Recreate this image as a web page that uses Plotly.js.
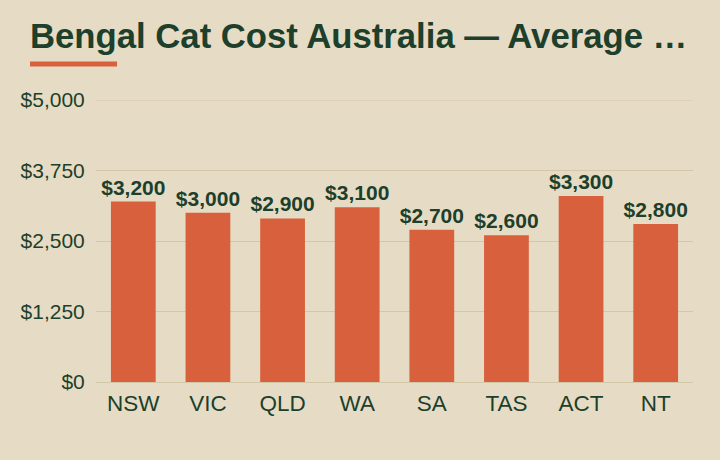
<!DOCTYPE html>
<html>
<head>
<meta charset="utf-8">
<script src="https://cdn.plot.ly/plotly-3.0.1.min.js"></script>
<style>
  html, body { margin: 0; padding: 0; background: #e6dcc5; }
  #chart { width: 720px; height: 460px; }
</style>
</head>
<body>
<div id="chart"></div>
<script>
const titleText = 'Bengal Cat Cost Australia — Average …';
const states = ['NSW', 'VIC', 'QLD', 'WA', 'SA', 'TAS', 'ACT', 'NT'];
const costs = [3200, 3000, 2900, 3100, 2700, 2600, 3300, 2800];
const yTickVals = [0, 1250, 2500, 3750, 5000];
const yTickText = ['$0', '$1,250', '$2,500', '$3,750', '$5,000'];
const yMax = 5000;

const bg = '#e6dcc5';
const ink = '#1d3f2b';
const bar = '#d9603c';
const grid = '#d3c6a9';

const trace = {
  type: 'bar',
  x: states,
  y: costs,
  marker: { color: bar },
  text: costs.map(v => '$' + v.toLocaleString('en-US')),
  textposition: 'outside',
  constraintext: 'none',
  cliponaxis: false,
  textfont: { family: 'Liberation Sans, Arial, sans-serif', size: 21, color: ink, weight: 'bold' },
  hoverinfo: 'skip'
};

const layout = {
  width: 720, height: 460,
  paper_bgcolor: bg, plot_bgcolor: bg,
  margin: { l: 96, r: 27, t: 100, b: 78 },
  bargap: 0.4,
  showlegend: false,
  title: {
    text: '<b>' + titleText + '</b>',
    font: { family: 'Liberation Sans Narrow, Arial Narrow, sans-serif', size: 34.7, color: ink },
    x: 30 / 720, xanchor: 'left', xref: 'container',
    y: 1 - 36 / 460, yanchor: 'middle', yref: 'container'
  },
  xaxis: {
    tickfont: { family: 'Liberation Sans, Arial, sans-serif', size: 22.5, color: ink },
    showgrid: false, showline: false, zeroline: false,
    ticks: 'outside', ticklen: 1, tickcolor: 'rgba(0,0,0,0)'
  },
  yaxis: {
    range: [0, yMax],
    tickvals: yTickVals, ticktext: yTickText,
    tickfont: { family: 'Liberation Sans, Arial, sans-serif', size: 21, color: ink },
    showgrid: true, gridcolor: grid, gridwidth: 1,
    zeroline: true, zerolinecolor: grid, zerolinewidth: 1,
    showline: false,
    ticks: 'outside', ticklen: 6, tickcolor: 'rgba(0,0,0,0)'
  },
  shapes: [{
    type: 'rect', xref: 'paper', yref: 'paper',
    x0: (30 - 96) / 597, x1: (117 - 96) / 597,
    y0: (382 - 66.5) / 282, y1: (382 - 61.5) / 282,
    fillcolor: bar, line: { width: 0 }
  }, {
    type: 'line', xref: 'paper', yref: 'y', layer: 'below',
    x0: 0, x1: 1, y0: yMax, y1: yMax,
    line: { color: grid, width: 1 }
  }]
};

Plotly.newPlot('chart', [trace], layout, { displayModeBar: false, staticPlot: true });
</script>
</body>
</html>
